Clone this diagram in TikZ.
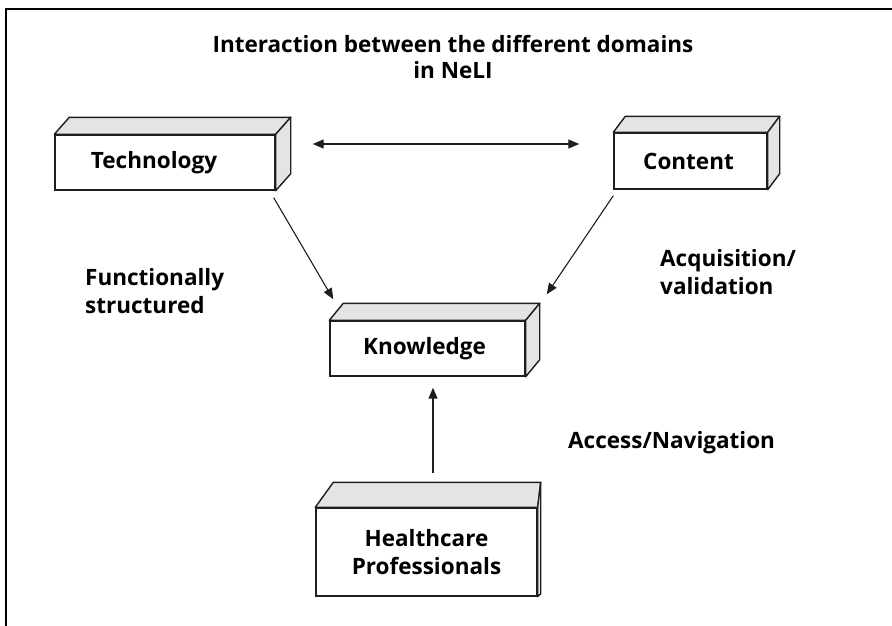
\documentclass[tikz,border=0pt]{standalone}
\usepackage{fontspec}
\setmainfont{Open Sans}
\usetikzlibrary{arrows.meta}
\definecolor{facegray}{HTML}{E4E4E4}
\definecolor{edge}{HTML}{1E1E1E}
\newcommand\mycube[3]{%
  \draw[face] (#1.north west) -- ++(#2,#3) -- ([shift={(#2,#3)}]#1.north east) -- (#1.north east) -- cycle;
  \draw[face] (#1.north east) -- ++(#2,#3) -- ([shift={(#2,#3)}]#1.south east) -- (#1.south east) -- cycle;
}
\tikzset{
  front/.style={draw=edge, fill=white, line width=1.4pt, inner sep=0pt, align=center,
    font=\fontsize{22.5}{28}\selectfont\bfseries},
  face/.style={draw=edge, fill=facegray, line width=1.4pt, line join=round},
  lbl/.style={inner sep=0pt, align=left, anchor=west, font=\fontsize{22.5}{28}\selectfont\bfseries},
  conn/.style={draw=edge, line width=1.1pt, -{Triangle[length=11pt,width=9pt]}},
  frame/.style={line width=2pt, black}
}
\begin{document}
\begin{tikzpicture}[x=1pt,y=-1pt]
\useasboundingbox (0,0) rectangle (892,626);
\draw[frame] (6,626) -- (6,9) -- (892,9);

\node[inner sep=0pt, align=center, font=\fontsize{22.5}{26}\selectfont\bfseries] (title) at (453,57)
  {Interaction between the different domains\\in NeLI};

\node[front, minimum width=220pt, minimum height=55pt] (tech) at (165,162.5) {\hspace*{-22pt}Technology};
\mycube{tech}{15}{-17}
\node[front, minimum width=153pt, minimum height=56pt] (cont) at (690.5,161) {\hspace*{-4pt}Content};
\mycube{cont}{12}{-16}
\node[front, minimum width=195pt, minimum height=55pt] (know) at (427.5,348.5) {\hspace*{-6pt}Knowledge};
\mycube{know}{14}{-17}
\node[front, minimum width=221pt, minimum height=88pt] (hc) at (426.5,552) {Healthcare\\Professionals};
\draw[face] (hc.north west) -- ++(18,-25) -- ([shift={(3,-25)}]hc.north east) -- (hc.north east) -- cycle;
\draw[face] (hc.north east) -- ++(3,-25) -- ([shift={(3,-3)}]hc.south east) -- (hc.south east) -- cycle;

\node[lbl] (func) at (85,291) {Functionally\\structured};
\node[lbl] (acq) at (660,272) {Acquisition/\\validation};
\node[lbl] (acc) at (568,443) {Access/Navigation};

\draw[conn, {Triangle[length=11pt,width=9pt]}-{Triangle[length=11pt,width=9pt]}]
  ([shift={(37,-18.5)}]tech.east) -- ([shift={(-34,-17)}]cont.west);
\draw[conn] ([shift={(-2,7)}]tech.south east) -- ([shift={(4,-21)}]know.north west);
\draw[conn] ([shift={(0,6)}]cont.south west) -- ([shift={(21,-26)}]know.north east);
\draw[conn] ([shift={(6.5,-34)}]hc.north) -- ([shift={(5.5,11)}]know.south);
\end{tikzpicture}
\end{document}
